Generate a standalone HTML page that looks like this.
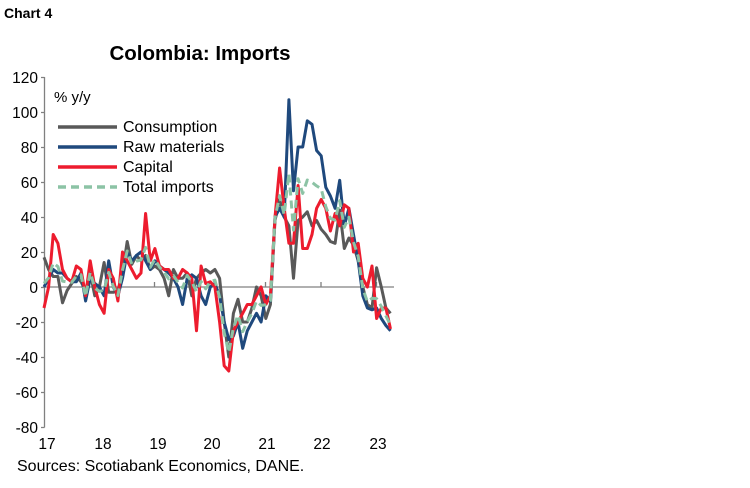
<!DOCTYPE html>
<html><head><meta charset="utf-8"><style>
body{margin:0;background:#fff;}
svg text{font-family:"Liberation Sans",Arial,sans-serif;}
</style></head><body>
<svg id="s" width="750" height="483" xmlns="http://www.w3.org/2000/svg">
<text x="4" y="18" font-size="14" font-weight="bold">Chart 4</text>
<text x="200" y="60" font-size="20.5" font-weight="bold" text-anchor="middle">Colombia: Imports</text>
<g font-size="15.5" fill="#000" text-anchor="end">
<text x="38" y="83">120</text><text x="38" y="118">100</text><text x="38" y="153">80</text>
<text x="38" y="188">60</text><text x="38" y="223">40</text><text x="38" y="258">20</text>
<text x="38" y="293">0</text><text x="38" y="328">-20</text><text x="38" y="363">-40</text>
<text x="38" y="398">-60</text><text x="38" y="433">-80</text>
</g>
<g stroke="#808080" stroke-width="1.3" fill="none">
<path d="M44.5 77V427.5M41 77.5h3.5M41 112.5h3.5M41 147.5h3.5M41 182.5h3.5M41 217.5h3.5M41 252.5h3.5M41 287.5h3.5M41 322.5h3.5M41 357.5h3.5M41 392.5h3.5M41 427.5h3.5"/>
<path d="M44 287h350M99.5 287v-5M154.5 287v-5M209.5 287v-5M265.5 287v-5M321 287v-5M376.5 287v-5"/>
</g>
<g font-size="15.5" text-anchor="middle">
<text x="47" y="449">17</text><text x="103" y="449">18</text><text x="158" y="449">19</text>
<text x="212" y="449">20</text><text x="267" y="449">21</text><text x="322" y="449">22</text><text x="378" y="449">23</text>
</g>
<text x="17" y="471" font-size="16">Sources: Scotiabank Economics, DANE.</text>
<text x="54" y="102" font-size="15">% y/y</text>
<g stroke-width="3.5">
<line x1="58" y1="127" x2="117" y2="127" stroke="#595959"/>
<line x1="58" y1="147" x2="117" y2="147" stroke="#1f497d"/>
<line x1="58" y1="167" x2="117" y2="167" stroke="#ed1c2e"/>
<line x1="58" y1="187" x2="117" y2="187" stroke="#8cc3a5" stroke-dasharray="8,5"/>
</g>
<g font-size="16">
<text x="123" y="132">Consumption</text><text x="123" y="152">Raw materials</text>
<text x="123" y="172">Capital</text><text x="123" y="192">Total imports</text>
</g>
<g id="lines"></g>
</svg>
<script>
var C=[17,10,6,6,-9,-2,2,6,3,-2,8,-5,
0,14,-3,-3,-2,8,26,13,18,15,18,10,
12,10,5,-5,10,5,5,8,-5,5,8,10,
8,10,5,-20,-40,-15,-7,-20,-20,-12,0,-5,
-18,-10,38,50,40,35,5,38,40,43,35,38,
33,30,26,25,44,22,28,24,15,0,-10,-12,
11,0,-12,-15];
var R=[0,5,10,8,8,5,3,3,8,-8,5,2,
0,-5,15,0,-5,5,20,15,18,20,15,10,
15,12,10,8,5,0,-10,5,7,5,-5,-10,
0,2,-5,-20,-30,-28,-20,-35,-25,-20,-15,-20,
-5,-8,40,45,40,107,55,80,80,95,93,78,
75,57,52,45,61,35,45,30,15,-5,-12,-13,
-12,-18,-22,-25];
var K=[-12,0,30,25,10,5,3,12,10,-5,15,0,
-10,-15,10,5,-8,20,15,10,5,8,42,15,
22,12,10,10,5,5,10,8,5,-25,12,2,
3,0,-20,-45,-48,-25,-20,-15,-10,-10,-5,0,
-10,-5,40,68,45,25,25,58,22,22,30,45,
50,45,32,42,35,47,45,20,25,5,0,12,
-18,-12,-12,-24];
var T=C.map(function(c,i){return 0.3*c+0.45*R[i]+0.25*K[i];});
function pts(a){return a.map(function(v,i){return (44+i*4.62).toFixed(1)+","+(287-v*1.75).toFixed(1);}).join(" ");}
var g=document.getElementById("lines"),ns="http://www.w3.org/2000/svg";
[[C,"#595959",""],[R,"#1f497d",""],[K,"#ed1c2e",""],[T,"#8cc3a5","8,5"]].forEach(function(s){
var p=document.createElementNS(ns,"polyline");p.setAttribute("points",pts(s[0]));
p.setAttribute("fill","none");p.setAttribute("stroke",s[1]);p.setAttribute("stroke-width","3");
p.setAttribute("stroke-linejoin","round");if(s[2])p.setAttribute("stroke-dasharray",s[2]);g.appendChild(p);});
</script>
</body></html>
